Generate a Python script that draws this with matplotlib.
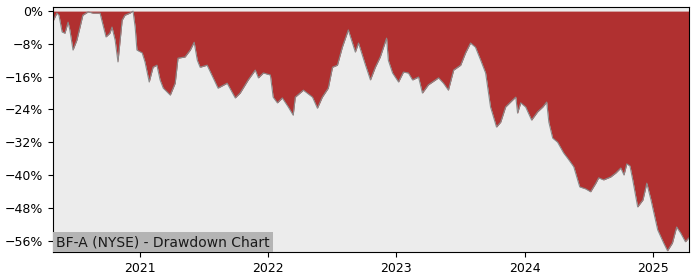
import pandas as pd
import matplotlib
matplotlib.use("Agg")
import matplotlib.pyplot as plt
from matplotlib.ticker import PercentFormatter, MultipleLocator
import matplotlib.dates as mdates

# drawdown series (date, % below running peak)
dates = [
    "2020-04-28", "2020-05-09", "2020-05-15", "2020-05-24", "2020-06-01", "2020-06-10",
    "2020-06-15", "2020-06-24", "2020-07-05", "2020-07-14", "2020-07-22", "2020-08-06",
    "2020-08-20", "2020-09-09", "2020-09-26", "2020-10-07", "2020-10-13", "2020-10-22",
    "2020-10-30", "2020-11-11", "2020-11-19", "2020-12-03", "2020-12-12", "2020-12-18",
    "2020-12-23", "2021-01-07", "2021-01-15", "2021-01-27", "2021-02-07", "2021-02-18",
    "2021-02-27", "2021-03-08", "2021-03-28", "2021-04-11", "2021-04-19", "2021-05-09",
    "2021-05-24", "2021-06-04", "2021-06-13", "2021-06-21", "2021-07-11", "2021-08-11",
    "2021-09-06", "2021-09-29", "2021-10-13", "2021-11-05", "2021-11-25", "2021-12-04",
    "2021-12-18", "2022-01-07", "2022-01-15", "2022-01-27", "2022-02-10", "2022-02-27",
    "2022-03-13", "2022-03-19", "2022-04-11", "2022-05-07", "2022-05-21", "2022-06-04",
    "2022-06-21", "2022-07-03", "2022-07-17", "2022-07-31", "2022-08-17", "2022-09-06",
    "2022-09-15", "2022-10-05", "2022-10-19", "2022-11-02", "2022-11-16", "2022-12-04",
    "2022-12-09", "2022-12-21", "2023-01-07", "2023-01-21", "2023-02-04", "2023-02-16",
    "2023-03-05", "2023-03-16", "2023-04-02", "2023-05-01", "2023-05-15", "2023-05-29",
    "2023-06-13", "2023-07-03", "2023-07-17", "2023-07-31", "2023-08-14", "2023-08-29",
    "2023-09-12", "2023-09-26", "2023-10-13", "2023-10-25", "2023-11-08", "2023-11-28",
    "2023-12-07", "2023-12-12", "2023-12-21", "2024-01-04", "2024-01-21", "2024-02-07",
    "2024-02-22", "2024-03-04", "2024-03-10", "2024-03-21", "2024-04-04", "2024-04-21",
    "2024-05-06", "2024-05-20", "2024-06-06", "2024-06-23", "2024-07-07", "2024-07-22",
    "2024-07-30", "2024-08-13", "2024-09-02", "2024-09-17", "2024-10-01", "2024-10-10",
    "2024-10-18", "2024-10-27", "2024-11-04", "2024-11-18", "2024-12-03", "2024-12-14",
    "2024-12-26", "2025-01-14", "2025-01-31", "2025-02-11", "2025-02-25", "2025-03-09",
    "2025-03-20", "2025-04-03", "2025-04-12",
]
drawdown = [
    -2.5, -0.5, -1.0, -5.1, -5.4, -2.7,
    -4.6, -9.5, -7.1, -3.9, -1.0, -0.2,
    -0.5, -0.5, -6.3, -5.4, -3.9, -7.1,
    -12.4, -2.2, -1.0, -0.5, 0.0, -3.9,
    -9.5, -10.2, -12.4, -17.3, -13.7, -13.2,
    -16.8, -18.8, -20.5, -17.6, -11.5, -11.2,
    -9.5, -7.6, -12.0, -13.7, -13.2, -18.8,
    -17.6, -21.2, -20.0, -16.8, -14.4, -16.3,
    -15.1, -15.6, -21.0, -22.4, -21.2, -23.4,
    -25.4, -21.0, -19.3, -21.0, -23.7, -21.0,
    -18.8, -13.7, -13.2, -8.8, -4.6, -10.0,
    -7.8, -13.2, -16.8, -13.7, -11.2, -6.6,
    -12.0, -15.1, -17.3, -14.9, -15.1, -16.8,
    -16.1, -20.0, -18.0, -16.3, -17.6, -19.3,
    -14.4, -13.2, -10.2, -7.8, -8.8, -12.0,
    -15.1, -23.4, -28.3, -27.1, -23.4, -21.7,
    -21.0, -24.9, -22.4, -23.4, -26.6, -24.6,
    -23.4, -22.2, -27.1, -31.0, -32.0, -34.6,
    -36.3, -38.0, -42.9, -43.4, -44.1, -42.0,
    -40.7, -41.2, -40.5, -39.5, -38.3, -40.0,
    -37.3, -37.8, -41.2, -47.8, -46.1, -42.0,
    -46.1, -53.4, -56.6, -58.5, -56.6, -52.7,
    -54.1, -56.3, -55.4,
]

title = "BF-A (NYSE) - Drawdown Chart"

x = pd.to_datetime(dates)

fig = plt.figure(figsize=(7, 2.8), dpi=100)
ax = fig.add_axes([0.0757, 0.1, 0.908, 0.875])
ax.set_facecolor("#ececec")

ax.fill_between(x, drawdown, 0, color="#b03030", linewidth=0)
ax.plot(x, drawdown, color="#8a8a8a", linewidth=0.8)

ax.set_xlim(x[0], x[-1])
ax.set_ylim(-58.8, 1.0)
ax.yaxis.set_major_locator(MultipleLocator(8))
ax.yaxis.set_major_formatter(PercentFormatter(decimals=0))
ax.xaxis.set_major_locator(mdates.YearLocator())
ax.xaxis.set_major_formatter(mdates.DateFormatter("%Y"))
ax.tick_params(labelsize=9)

ax.text(0.005, 0.012, title, transform=ax.transAxes, fontsize=10,
        color="#1a1a1a", va="bottom", ha="left",
        bbox=dict(facecolor="#b4b4b4", edgecolor="none", pad=2))

fig.savefig("out.png", dpi=100)
